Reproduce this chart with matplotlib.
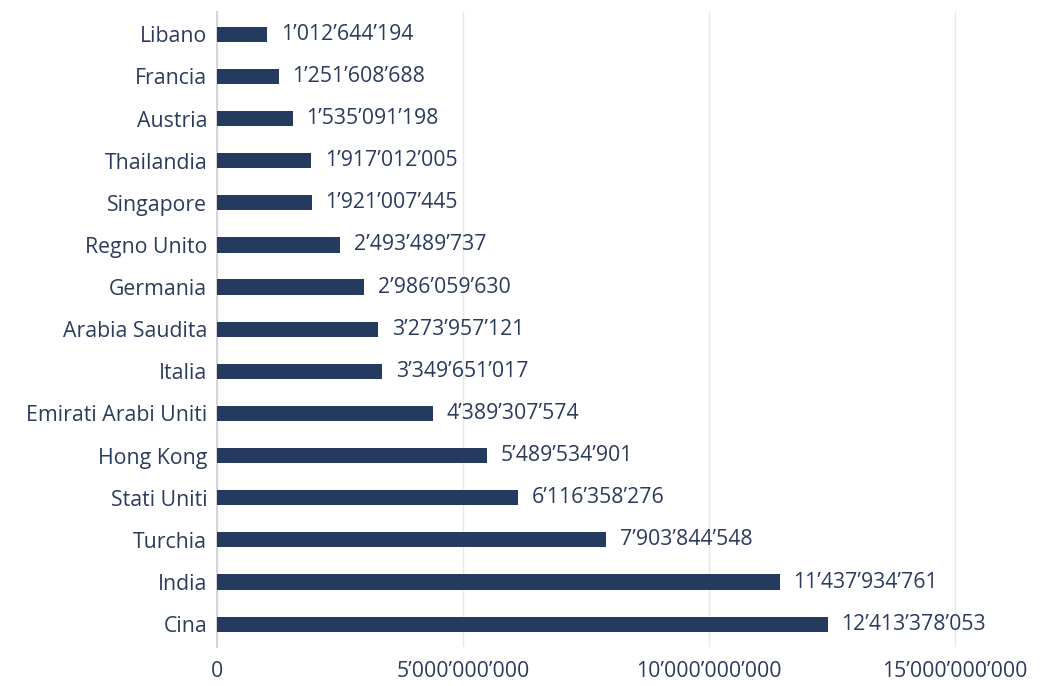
import numpy as np
import matplotlib.pyplot as plt
from matplotlib.ticker import FuncFormatter

# ── Data ─────────────────────────────────────────────────────────────────────

countries = [
    "Cina", "India", "Turchia", "Stati Uniti", "Hong Kong",
    "Emirati Arabi Uniti", "Italia", "Arabia Saudita", "Germania",
    "Regno Unito", "Singapore", "Thailandia", "Austria", "Francia", "Libano",
]
values = [
    12413378053, 11437934761, 7903844548, 6116358276, 5489534901,
    4389307574, 3349651017, 3273957121, 2986059630,
    2493489737, 1921007445, 1917012005, 1535091198, 1251608688, 1012644194,
]
xticks = [0, 5e9, 10e9, 15e9]

# ── Style ────────────────────────────────────────────────────────────────────

BAR_COLOR = "#243a5e"
TEXT_COLOR = "#2b3b5c"
FS = 15.3
plt.rcParams["font.family"] = ["Open Sans", "DejaVu Sans"]


def fmt(v, _=None):
    return f"{int(v):,}".replace(",", "\u2019")


fig = plt.figure(figsize=(10.42, 6.86), dpi=100)
ax = fig.add_axes([0.2083, 0.057, 0.7917, 0.925])

y = np.arange(len(countries))
ax.barh(y, values, height=0.36, color=BAR_COLOR, zorder=3)

for yi, v in zip(y, values):
    ax.annotate(fmt(v), (v, yi), xytext=(10, 0), textcoords="offset points",
                va="center", ha="left", fontsize=FS, color=TEXT_COLOR)

ax.set_yticks(y)
ax.set_yticklabels(countries)
ax.set_xticks(xticks)
ax.xaxis.set_major_formatter(FuncFormatter(fmt))
ax.set_xlim(0, 16.77e9)
ax.set_ylim(-0.54, len(countries) - 1 + 0.52)

ax.tick_params(axis="both", length=0, labelsize=FS, colors=TEXT_COLOR)
ax.tick_params(axis="x", pad=10)
ax.tick_params(axis="y", pad=7)

ax.grid(axis="x", color="#e8e8e8", linewidth=1, zorder=0)
for side in ["top", "right", "bottom"]:
    ax.spines[side].set_visible(False)
ax.spines["left"].set_color("#d6d6d6")
ax.spines["left"].set_linewidth(1.5)

fig.savefig("out.png", dpi=100)
